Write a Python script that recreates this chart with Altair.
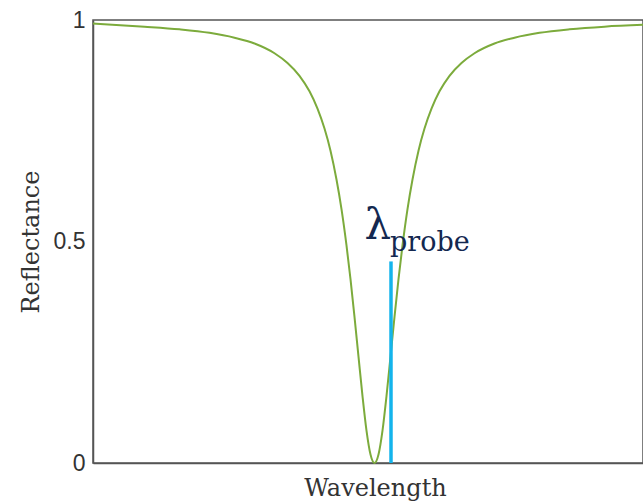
import altair as alt
import pandas as pd

# Curve (x in arbitrary wavelength units 0..550)
wl = [0, 51.5, 86.5, 116.5, 141.5, 161.5, 181.5, 194.5, 206.5, 216.5, 224.5, 231.5,
      237.5, 243.5, 248.5, 253.5, 257.5, 261.5, 265.5, 269.5, 273.5, 277.5, 281.5,
      285.5, 289.5, 293.5, 297.5, 301.5, 305.5, 309.5, 314.5, 319.5, 325.5, 331.5,
      338.5, 346.5, 356.5, 368.5, 381.5, 401.5, 421.5, 446.5, 476.5, 511.5, 550]
refl = [0.992, 0.985, 0.979, 0.971, 0.960, 0.947, 0.925, 0.903, 0.874, 0.839, 0.800,
        0.755, 0.705, 0.640, 0.573, 0.491, 0.415, 0.330, 0.240, 0.151, 0.073, 0.019,
        0.0,
        0.019, 0.073, 0.151, 0.240, 0.330, 0.415, 0.491, 0.573, 0.640, 0.705, 0.755,
        0.800, 0.839, 0.874, 0.903, 0.925, 0.947, 0.960, 0.971, 0.979, 0.985, 0.989]

probe_x = [298]
probe_top = [0.455]

y_ticks = [0, 0.5, 1]

curve = pd.DataFrame({"w": wl, "r": refl})
probe = pd.DataFrame({"w": probe_x, "r0": [0.0], "r1": probe_top})

xs = alt.Scale(domain=[0, 550], nice=False, zero=False)
ys = alt.Scale(domain=[0, 1], nice=False)

line = alt.Chart(curve).mark_line(color="#7cab3c", strokeWidth=2, interpolate="monotone").encode(
    x=alt.X("w:Q", scale=xs, axis=alt.Axis(title="Wavelength", labels=False, ticks=False,
                                            grid=False, domainColor="#555555", domainWidth=1.5,
                                            titleFont="DejaVu Serif", titleFontSize=24,
                                            titleFontWeight="normal", titleColor="#333333",
                                            titlePadding=13, titleX=282)),
    y=alt.Y("r:Q", scale=ys, axis=alt.Axis(title="Reflectance", values=y_ticks, format="~g",
                                            ticks=False, grid=False, domainColor="#555555",
                                            domainWidth=1.5, labelFont="Liberation Sans",
                                            labelFontSize=23, labelColor="#333333",
                                            labelPadding=8,
                                            titleFont="DejaVu Serif", titleFontSize=24,
                                            titleFontWeight="normal", titleColor="#333333",
                                            titlePadding=10)),
)

rule = alt.Chart(probe).mark_rule(color="#14b4ec", strokeWidth=3.5).encode(
    x=alt.X("w:Q", scale=xs), y=alt.Y("r0:Q", scale=ys), y2="r1:Q"
)

lam = alt.Chart(pd.DataFrame({"w": [298], "r": [0.505], "t": ["λ"]})).mark_text(
    font="DejaVu Serif", fontSize=42, color="#142850", align="right", baseline="alphabetic"
).encode(x=alt.X("w:Q", scale=xs), y=alt.Y("r:Q", scale=ys), text="t:N")

sub = alt.Chart(pd.DataFrame({"w": [297], "r": [0.478], "t": ["probe"]})).mark_text(
    font="DejaVu Serif", fontSize=27, color="#142850", align="left", baseline="alphabetic"
).encode(x=alt.X("w:Q", scale=xs), y=alt.Y("r:Q", scale=ys), text="t:N")

chart = alt.layer(line, rule, lam, sub).properties(
    width=550, height=443,
    autosize=alt.AutoSizeParams(type="none"),
    padding={"left": 93, "top": 20, "right": 0, "bottom": 41},
    background="white",
).configure_view(stroke="#555555", strokeWidth=1.5)

chart.save("out.html", embed_options={"renderer": "svg", "actions": False})
